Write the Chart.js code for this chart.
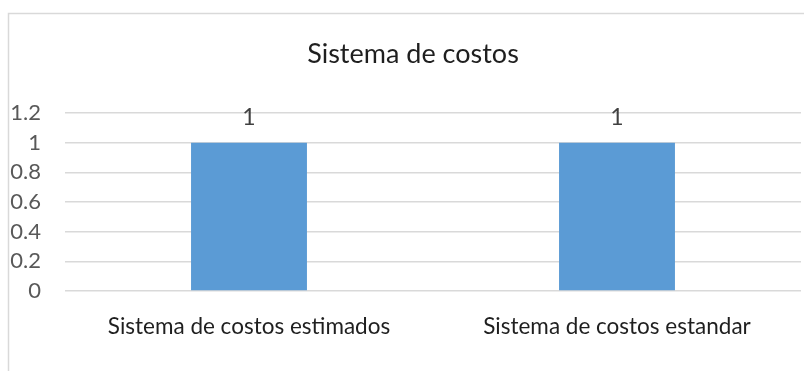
<!DOCTYPE html>
<html>
<head>
<meta charset="utf-8">
<script src="https://cdn.jsdelivr.net/npm/chart.js@4"></script>
<style>
html,body{margin:0;padding:0;background:#fff;}
#wrap{position:relative;width:804px;height:371px;}
</style>
</head>
<body>
<div id="wrap"><canvas id="c" width="804" height="371"></canvas></div>
<script>
const chartTitle = 'Sistema de costos';
const categories = ['Sistema de costos estimados', 'Sistema de costos estandar'];
const seriesValues = [1, 1];
const seriesLabels = ['1', '1'];
const yTickLabels = ['0', '0.2', '0.4', '0.6', '0.8', '1', '1.2'];

const FONT = 'Lato, "Open Sans", sans-serif';

const framePlugin = {
  id: 'frame',
  beforeDraw(chart) {
    const ctx = chart.ctx;
    ctx.save();
    ctx.strokeStyle = '#D9D9D9';
    ctx.lineWidth = 1.5;
    ctx.beginPath();
    ctx.moveTo(8.5, 371);
    ctx.lineTo(8.5, 13.5);
    ctx.lineTo(804, 13.5);
    ctx.stroke();
    ctx.restore();
  }
};

const titlePlugin = {
  id: 'customTitle',
  afterDraw(chart) {
    const ctx = chart.ctx;
    ctx.save();
    ctx.font = '27px ' + FONT;
    ctx.fillStyle = '#1F1F1F';
    ctx.textAlign = 'center';
    ctx.textBaseline = 'middle';
    ctx.fillText(chartTitle, 413, 54);
    ctx.restore();
  }
};

const labelPlugin = {
  id: 'barLabels',
  afterDatasetsDraw(chart) {
    const ctx = chart.ctx;
    const meta = chart.getDatasetMeta(0);
    ctx.save();
    ctx.font = '23px ' + FONT;
    ctx.fillStyle = '#404040';
    ctx.textAlign = 'center';
    ctx.textBaseline = 'middle';
    meta.data.forEach((bar, i) => {
      ctx.fillText(seriesLabels[i], bar.x, bar.y - 25);
    });
    ctx.restore();
  }
};

new Chart(document.getElementById('c'), {
  type: 'bar',
  data: {
    labels: categories,
    datasets: [{
      data: seriesValues,
      backgroundColor: '#5B9BD5',
      borderWidth: 0,
      categoryPercentage: 1,
      barPercentage: 0.315
    }]
  },
  options: {
    responsive: false,
    animation: false,
    layout: { padding: { left: 0, right: 3, top: 113, bottom: 0 } },
    plugins: {
      legend: { display: false },
      tooltip: { enabled: false },
      title: { display: false }
    },
    scales: {
      x: {
        grid: { display: false, drawTicks: false },
        border: { display: false },
        ticks: { color: '#1F1F1F', font: { family: FONT, size: 22.5 }, padding: 22, maxRotation: 0 },
        afterFit(scale) { scale.height = 80; }
      },
      y: {
        min: 0, max: 1.2,
        grid: { color: '#D9D9D9', lineWidth: 1.5, drawTicks: false },
        border: { display: false },
        ticks: {
          stepSize: 0.2,
          color: '#595959',
          font: { family: FONT, size: 22 },
          padding: 24,
          callback: (v, i) => yTickLabels[i]
        },
        afterFit(scale) { scale.width = 65; }
      }
    }
  },
  plugins: [framePlugin, labelPlugin, titlePlugin]
});
</script>
</body>
</html>
